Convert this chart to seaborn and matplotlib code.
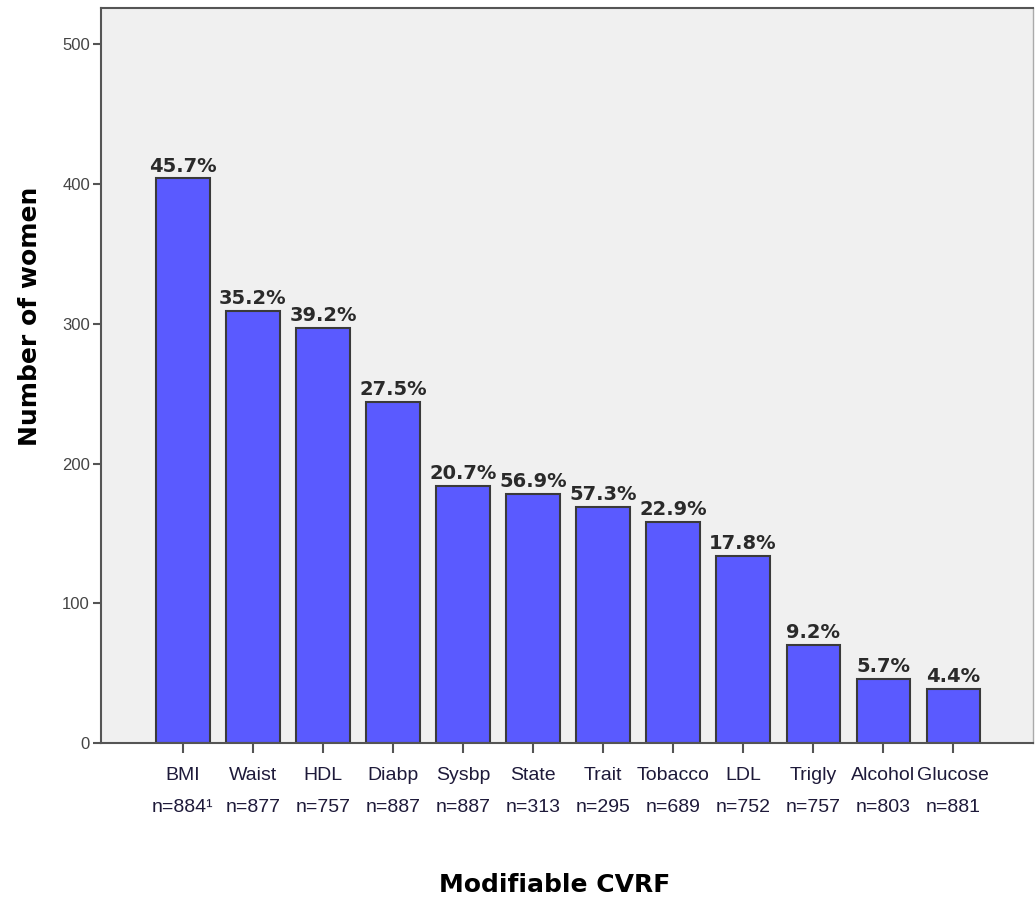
import matplotlib
matplotlib.use("Agg")
import matplotlib.pyplot as plt
import pandas as pd
import seaborn as sns

categories = ["BMI", "Waist", "HDL", "Diabp", "Sysbp", "State", "Trait",
              "Tobacco", "LDL", "Trigly", "Alcohol", "Glucose"]
counts = [404, 309, 297, 244, 184, 178, 169, 158, 134, 70, 46, 39]
n_labels = ["n=884\u00b9", "n=877", "n=757", "n=887", "n=887", "n=313", "n=295",
            "n=689", "n=752", "n=757", "n=803", "n=881"]
percents = ["45.7%", "35.2%", "39.2%", "27.5%", "20.7%", "56.9%", "57.3%",
            "22.9%", "17.8%", "9.2%", "5.7%", "4.4%"]

df = pd.DataFrame({"cat": categories, "count": counts})

sns.set_style("ticks")
plt.rcParams["font.family"] = ["Liberation Sans", "DejaVu Sans"]

fig = plt.figure(figsize=(10.35, 8.97), dpi=100)
ax = fig.add_axes([101 / 1035, 1 - 743 / 897, (1033 - 101) / 1035, (743 - 8) / 897])
ax.set_facecolor("#f0f0f0")

sns.barplot(data=df, x="cat", y="count", color="#5a5aff", saturation=1,
            width=0.76, edgecolor="#3a3a3a", linewidth=1.5, ax=ax)

for i, (c, p) in enumerate(zip(counts, percents)):
    ax.text(i, c + 2, p, ha="center", va="bottom", fontsize=14, fontweight="bold",
            color="#2a2a2a", family=["DejaVu Sans"])

ax.set_xlim(-1.17, 12.14)
ax.set_ylim(0, 526)
ax.set_yticks([0, 100, 200, 300, 400, 500])
ax.set_xticks(range(len(categories)))
ax.set_xticklabels([f"{c}\n{n}" for c, n in zip(categories, n_labels)],
                   fontsize=14, color="#1e1a3a", linespacing=2.2)
ax.tick_params(axis="x", length=7, width=1.5, color="#555555", pad=10)
ax.tick_params(axis="y", length=6, width=1.5, color="#555555", labelsize=12,
               labelcolor="#444444", pad=2)

for side in ["left", "bottom", "top"]:
    ax.spines[side].set_color("#555555")
    ax.spines[side].set_linewidth(1.5)
ax.spines["right"].set_color("#aaaaaa")
ax.spines["right"].set_linewidth(1)

ax.set_xlabel("Modifiable CVRF", fontsize=18, fontweight="bold", color="black",
              family=["DejaVu Sans"])
ax.set_ylabel("Number of women", fontsize=18, fontweight="bold", color="black",
              family=["DejaVu Sans"])
ax.xaxis.set_label_coords(0.487, -0.177)
ax.yaxis.set_label_coords(-0.063, 0.581)

fig.savefig("out.png", dpi=100)
